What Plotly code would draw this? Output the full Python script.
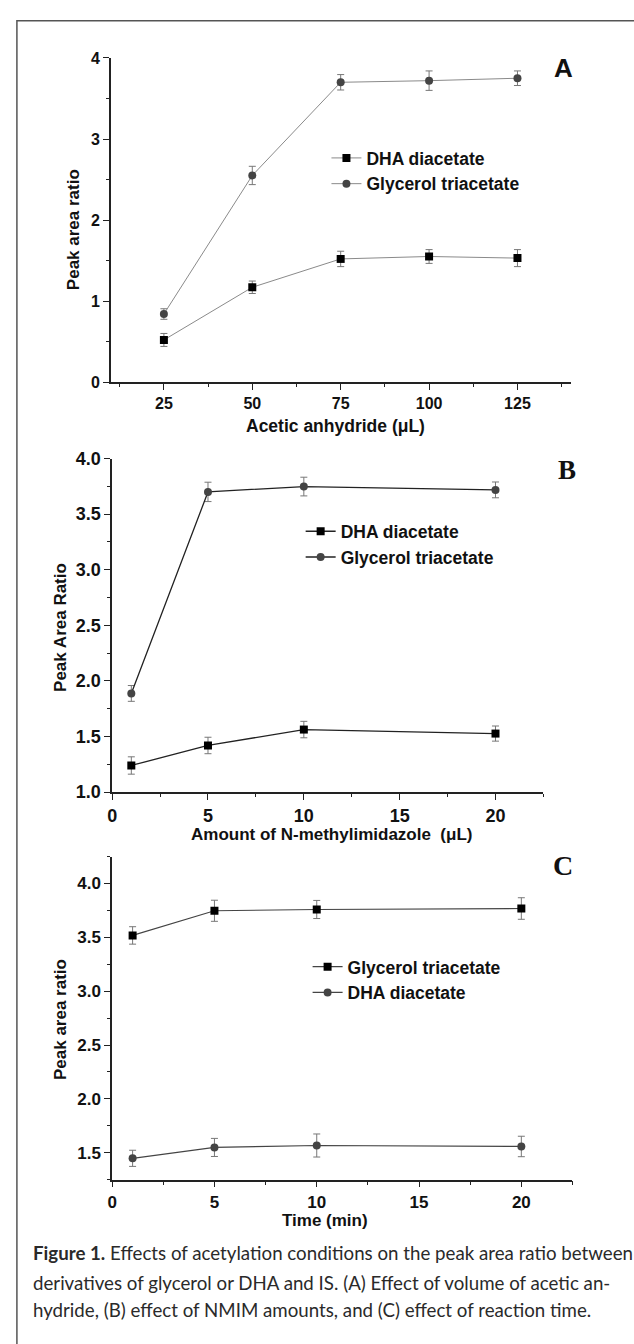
import plotly.graph_objects as go

W, H = 634, 1344

# ---------------- data ----------------
# Panel A: acetic anhydride volume (uL)
a_x = [25, 50, 75, 100, 125]
a_dha = [0.52, 1.17, 1.52, 1.55, 1.53]
a_dha_err = [0.08, 0.077, 0.095, 0.085, 0.105]
a_gly = [0.84, 2.55, 3.70, 3.72, 3.75]
a_gly_err = [0.065, 0.113, 0.095, 0.12, 0.09]

# Panel B: N-methylimidazole amount (uL)
b_x = [1, 5, 10, 20]
b_dha = [1.24, 1.42, 1.563, 1.527]
b_dha_err = [0.078, 0.074, 0.074, 0.068]
b_gly = [1.888, 3.70, 3.748, 3.718]
b_gly_err = [0.071, 0.087, 0.084, 0.071]

# Panel C: time (min)
c_x = [1, 5, 10, 20]
c_gly = [3.518, 3.747, 3.759, 3.768]
c_gly_err = [0.081, 0.098, 0.084, 0.10]
c_dha = [1.448, 1.549, 1.567, 1.558]
c_dha_err = [0.075, 0.084, 0.107, 0.095]

caption_lines = [
    "<b>Figure 1.</b> Effects of acetylation conditions on the peak area ratio between",
    "derivatives of glycerol or DHA and IS. (A) Effect of volume of acetic an-",
    "hydride, (B) effect of NMIM amounts, and (C) effect of reaction time.",
]

SANS = "Liberation Sans, Arial, sans-serif"
SERIF = "Liberation Serif, Times New Roman, serif"
CAP = "Lato, Liberation Sans, sans-serif"

def px(x):
    return x / W

def py(y):
    return 1 - y / H

fig = go.Figure()

ERR = "#777777"

def add(x, y, err, name, sym, mcol, lcol, lw, xa, ya, leg):
    fig.add_trace(go.Scatter(
        x=x, y=y, name=name, mode="lines+markers",
        xaxis=xa, yaxis=ya, legend=leg,
        line=dict(color=lcol, width=lw),
        marker=dict(symbol=sym, size=8, color=mcol, line=dict(width=0)),
        error_y=dict(type="data", array=err, visible=True, color=ERR,
                     thickness=1, width=3.5),
    ))

add(a_x, a_dha, a_dha_err, "DHA diacetate", "square", "#000000", "#8a8a8a", 1, "x", "y", "legend")
add(a_x, a_gly, a_gly_err, "Glycerol triacetate", "circle", "#444444", "#8a8a8a", 1, "x", "y", "legend")
add(b_x, b_dha, b_dha_err, "DHA diacetate", "square", "#000000", "#222222", 1.3, "x2", "y2", "legend2")
add(b_x, b_gly, b_gly_err, "Glycerol triacetate", "circle", "#444444", "#222222", 1.3, "x2", "y2", "legend2")
add(c_x, c_gly, c_gly_err, "Glycerol triacetate", "square", "#000000", "#444444", 1.2, "x3", "y3", "legend3")
add(c_x, c_dha, c_dha_err, "DHA diacetate", "circle", "#444444", "#444444", 1.2, "x3", "y3", "legend3")

def axis(domain, rng, dtick, minor, fs, anchor, fmt=None):
    d = dict(domain=domain, range=rng, dtick=dtick, tick0=0, anchor=anchor,
             showgrid=False, zeroline=False, showline=True, linecolor="#222222",
             linewidth=1.5, ticks="outside", ticklen=6, tickwidth=1.2,
             tickcolor="#222222", ticklabelstandoff=0,
             tickfont=dict(family=SANS, size=fs, color="#111111", weight="bold"),
             minor=dict(dtick=minor, ticks="outside", ticklen=3.5, tickwidth=1.2,
                        tickcolor="#222222", showgrid=False))
    if fmt:
        d["tickformat"] = fmt
    return d

# pixel geometry
A_x0, A_x1, A_y0, A_y1 = 106.7, 570, 48.7, 377.7
B_x0, B_x1, B_y0, B_y1 = 108, 542.7, 455.3, 794
C_x0, C_x1, C_y0, C_y1 = 108, 572, 859.4, 1187.3

fig.update_layout(
    xaxis=axis([px(A_x0), px(A_x1)], [10, 140], 25, 12.5, 16, "y"),
    yaxis=axis([py(A_y1), py(A_y0)], [0, 4], 1, 0.5, 16, "x"),
    xaxis2=axis([px(B_x0), px(B_x1)], [0, 22.5], 5, 2.5, 18, "y2"),
    yaxis2=axis([py(B_y1), py(B_y0)], [1, 4], 0.5, 0.25, 18, "x2", ".1f"),
    xaxis3=axis([px(C_x0), px(C_x1)], [0, 22.5], 5, 2.5, 17, "y3"),
    yaxis3=axis([py(C_y1), py(C_y0)], [1.25, 4.25], 0.5, 0.25, 17, "x3", ".1f"),
)

legfont = dict(family=SANS, size=17.5, color="#111111", weight="bold")
fig.update_layout(
    legend=dict(x=px(324), y=py(132), xanchor="left", yanchor="top",
                bgcolor="rgba(0,0,0,0)", font=legfont, tracegroupgap=0),
    legend2=dict(x=px(298), y=py(511), xanchor="left", yanchor="top",
                 bgcolor="rgba(0,0,0,0)", font=legfont, tracegroupgap=0),
    legend3=dict(x=px(305), y=py(953), xanchor="left", yanchor="top",
                 bgcolor="rgba(0,0,0,0)", font=legfont, tracegroupgap=0),
)

ann = []
def text(x, y, t, size, family=SANS, angle=0, xanchor="center", color="#111111"):
    ann.append(dict(x=px(x), y=py(y), xref="paper", yref="paper", text=t,
                    showarrow=False, textangle=angle, xanchor=xanchor,
                    yanchor="middle", font=dict(family=family, size=size, color=color)))

# axis titles
text(333.5, 422, "<b>Acetic anhydride (μL)</b>", 17.5)
text(69, 223, "<b>Peak area ratio</b>", 17, angle=-90)
text(329, 837, "<b>Amount of N-methylimidazole  (μL)</b>", 17)
text(55.7, 627, "<b>Peak Area Ratio</b>", 17, angle=-90)
text(323, 1229, "<b>Time (min)</b>", 17)
text(55.7, 1025, "<b>Peak area ratio</b>", 17, angle=-90)

# panel letters
text(562.7, 59, "<b>A</b>", 26)
text(566, 467, "<b>B</b>", 27, family=SERIF)
text(562, 868, "<b>C</b>", 28, family=SERIF)

# caption
for line, yy in zip(caption_lines, [1262, 1292, 1320]):
    text(26, yy, line, 18.7, family=CAP, xanchor="left", color="#2a2a2a")

fig.update_layout(annotations=ann)

# outer frame
fig.add_shape(type="rect", xref="paper", yref="paper",
              x0=px(12), x1=px(645), y0=py(1355), y1=py(11),
              line=dict(color="#555555", width=1.5), layer="below")

fig.update_layout(width=W, height=H, margin=dict(l=0, r=0, t=0, b=0),
                  paper_bgcolor="white", plot_bgcolor="white", showlegend=True)

fig.write_html("out.html", config={"displayModeBar": False},
               post_script="document.body.style.margin='0px';document.body.style.overflow='hidden';")
